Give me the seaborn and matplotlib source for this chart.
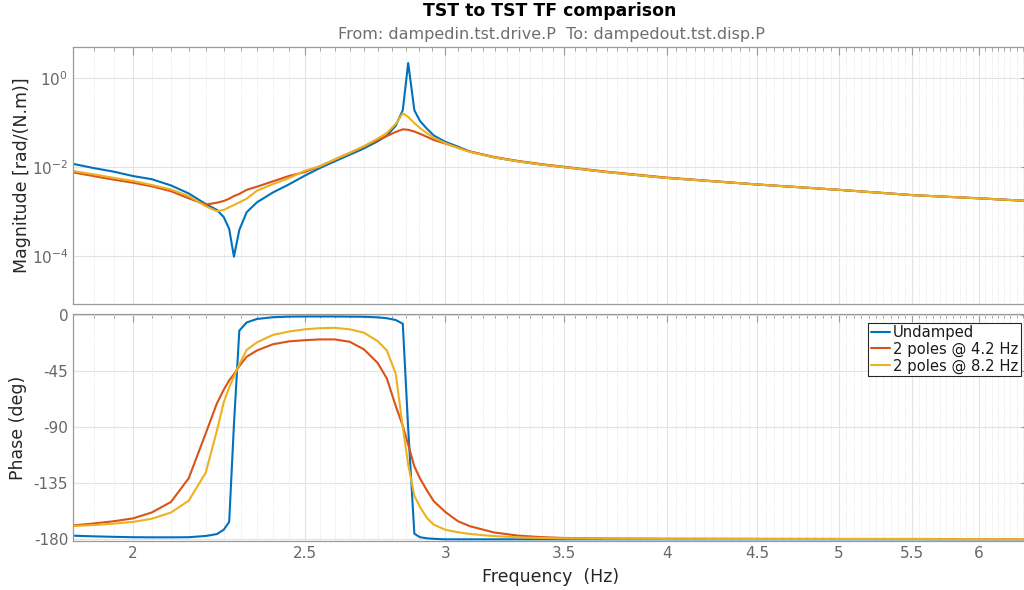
import numpy as np
import pandas as pd
import matplotlib
matplotlib.use("Agg")
import matplotlib.pyplot as plt
from matplotlib.ticker import FixedLocator, NullLocator, NullFormatter
import seaborn as sns

# Frequency grid (Hz) shared by all three responses
freq_hz = [1.852, 1.900, 1.950, 2.000, 2.049, 2.101, 2.150, 2.198, 2.230, 2.250,
           2.266, 2.280, 2.296, 2.318, 2.349, 2.398, 2.448, 2.500, 2.549, 2.599,
           2.650, 2.699, 2.748, 2.781, 2.813, 2.839, 2.859, 2.882, 2.903, 2.930,
           2.956, 3.000, 3.050, 3.098, 3.196, 3.297, 3.396, 3.499, 3.696, 3.990,
           4.502, 5.005, 5.513, 5.999, 6.400]

# Magnitude, rad/(N.m)
mag_undamped = [1.15e-2, 9.33e-3, 7.76e-3, 6.17e-3, 5.25e-3, 3.80e-3, 2.51e-3, 1.45e-3, 1.07e-3, 7.4e-4,
                4.0e-4, 9.5e-5, 3.8e-4, 9.5e-4, 1.58e-3, 2.63e-3, 3.98e-3, 6.31e-3, 9.33e-3, 1.32e-2,
                1.86e-2, 2.57e-2, 3.72e-2, 5.01e-2, 8.32e-2, 1.86e-1, 2.14e0, 1.86e-1, 1.07e-1, 7.08e-2,
                5.01e-2, 3.63e-2, 2.82e-2, 2.19e-2, 1.62e-2, 1.32e-2, 1.12e-2, 9.77e-3, 7.59e-3, 5.62e-3,
                3.98e-3, 3.02e-3, 2.29e-3, 1.95e-3, 1.70e-3]
mag_poles_4p2 = [7.41e-3, 6.17e-3, 5.13e-3, 4.37e-3, 3.63e-3, 2.82e-3, 1.95e-3, 1.41e-3, 1.55e-3, 1.70e-3,
                 1.91e-3, 2.19e-3, 2.45e-3, 3.02e-3, 3.55e-3, 4.68e-3, 6.17e-3, 7.59e-3, 1.02e-2, 1.45e-2,
                 2.04e-2, 2.82e-2, 3.98e-2, 4.90e-2, 6.03e-2, 6.92e-2, 6.76e-2, 6.17e-2, 5.50e-2, 4.68e-2,
                 3.98e-2, 3.31e-2, 2.69e-2, 2.19e-2, 1.66e-2, 1.35e-2, 1.15e-2, 1.00e-2, 7.76e-3, 5.75e-3,
                 3.98e-3, 3.02e-3, 2.29e-3, 1.95e-3, 1.70e-3]
mag_poles_8p2 = [7.94e-3, 6.76e-3, 5.62e-3, 4.79e-3, 3.89e-3, 3.09e-3, 2.19e-3, 1.29e-3, 1.00e-3, 1.07e-3,
                 1.23e-3, 1.38e-3, 1.58e-3, 1.91e-3, 2.88e-3, 4.07e-3, 5.50e-3, 8.13e-3, 1.02e-2, 1.45e-2,
                 2.04e-2, 2.88e-2, 4.27e-2, 5.75e-2, 9.12e-2, 1.58e-1, 1.32e-1, 9.55e-2, 7.41e-2, 5.62e-2,
                 4.47e-2, 3.39e-2, 2.63e-2, 2.14e-2, 1.62e-2, 1.32e-2, 1.12e-2, 9.77e-3, 7.59e-3, 5.62e-3,
                 3.98e-3, 3.02e-3, 2.29e-3, 1.95e-3, 1.70e-3]

# Phase, degrees
phase_undamped = [-177.1, -177.6, -178.0, -178.3, -178.4, -178.4, -178.3, -177.3, -175.8, -172.3,
                  -166.0, -88.0, -12.5, -6.0, -3.2, -1.8, -1.3, -1.2, -1.2, -1.2,
                  -1.3, -1.4, -1.9, -2.6, -4.0, -7.0, -91.0, -175.5, -178.3, -179.2,
                  -179.6, -180.0, -180.0, -180.0, -180.0, -180.0, -180.0, -180.0, -180.0, -180.0,
                  -180.0, -180.0, -180.0, -180.0, -180.0]
phase_poles_4p2 = [-168.8, -167.3, -165.5, -163.2, -158.5, -150.0, -131.0, -95.0, -71.0, -60.0,
                   -52.5, -47.5, -41.0, -33.5, -28.5, -23.5, -21.2, -20.2, -19.6, -19.6,
                   -21.5, -27.5, -38.5, -51.0, -73.0, -89.0, -104.0, -121.5, -131.0, -141.0,
                   -149.5, -158.0, -165.5, -169.5, -174.5, -177.0, -178.2, -178.9, -179.3, -179.5,
                   -179.6, -179.7, -179.7, -179.8, -179.8]
phase_poles_8p2 = [-169.3, -168.6, -167.4, -166.0, -163.5, -158.5, -149.0, -126.5, -93.0, -70.0,
                   -58.0, -49.5, -39.5, -28.0, -22.0, -16.0, -13.3, -11.5, -10.6, -10.3,
                   -11.5, -14.2, -21.0, -28.5, -47.0, -90.0, -120.0, -145.0, -154.0, -163.0,
                   -168.3, -172.3, -174.3, -175.7, -177.4, -178.4, -178.9, -179.2, -179.4, -179.6,
                   -179.7, -179.7, -179.8, -179.8, -179.8]

series_names = ["Undamped", "2 poles @ 4.2 Hz", "2 poles @ 8.2 Hz"]
series_colors = ["#0072BD", "#D95319", "#EDB120"]

freq_ticks = [2, 2.5, 3, 3.5, 4, 4.5, 5, 5.5, 6]
freq_tick_labels = ["2", "2.5", "3", "3.5", "4", "4.5", "5", "5.5", "6"]
mag_ticks = [1e-4, 1e-2, 1e0]
mag_tick_labels = [r"$10^{-4}$", r"$10^{-2}$", r"$10^{0}$"]
phase_ticks = [-180, -135, -90, -45, 0]
phase_tick_labels = ["-180", "-135", "-90", "-45", "0"]

frames = []
for name, mag, ph in zip(series_names,
                         [mag_undamped, mag_poles_4p2, mag_poles_8p2],
                         [phase_undamped, phase_poles_4p2, phase_poles_8p2]):
    frames.append(pd.DataFrame({"freq": freq_hz, "mag": mag, "phase": ph, "series": name}))
df = pd.concat(frames, ignore_index=True)

sns.set_style("white")
plt.rcParams["font.family"] = ["DejaVu Sans"]
plt.rcParams["mathtext.fontset"] = "dejavusans"

W, H = 1024, 590
fig = plt.figure(figsize=(W / 100, H / 100), dpi=100)
left = 73 / W
width = 955.7 / W
ax_mag = fig.add_axes([left, 1 - 304 / H, width, (304 - 46.7) / H])
ax_ph = fig.add_axes([left, 1 - 540.7 / H, width, (540.7 - 314) / H])

palette = dict(zip(series_names, series_colors))
for ax, col in ((ax_mag, "mag"), (ax_ph, "phase")):
    sns.lineplot(data=df, x="freq", y=col, hue="series", hue_order=series_names,
                 palette=palette, estimator=None, sort=False, linewidth=1.5,
                 ax=ax, legend=(col == "phase"))

minor_locs = [round(v, 2) for v in np.arange(1.85, 6.41, 0.05)
              if min(abs(v - t) for t in freq_ticks) > 1e-6]

spine_col = "#9a9a9a"
tick_lab_col = "#676767"
for ax in (ax_mag, ax_ph):
    ax.set_xscale("log")
    ax.set_xlim(1.85, 6.4)
    ax.xaxis.set_major_locator(FixedLocator(freq_ticks))
    ax.xaxis.set_minor_locator(FixedLocator(minor_locs))
    ax.xaxis.set_minor_formatter(NullFormatter())
    ax.set_xlabel("")
    ax.set_ylabel("")
    ax.grid(True, which="major", color="#e3e3e3", linewidth=0.8, linestyle="-")
    ax.grid(True, which="minor", axis="x", color="#dcdcdc", linewidth=0.6, linestyle=":")
    ax.set_axisbelow(True)
    for s in ax.spines.values():
        s.set_color(spine_col)
        s.set_linewidth(0.9)
    ax.tick_params(which="both", direction="in", top=True, right=True,
                   color=spine_col, labelcolor=tick_lab_col, labelsize=11)
    ax.tick_params(which="major", length=6, width=0.8)
    ax.tick_params(which="minor", length=3, width=0.6)

ax_mag.set_yscale("log")
ax_mag.set_ylim(10 ** -5.085, 10 ** 0.697)
ax_mag.yaxis.set_major_locator(FixedLocator(mag_ticks))
ax_mag.set_yticklabels(mag_tick_labels)
ax_mag.yaxis.set_minor_locator(NullLocator())
ax_mag.set_xticklabels([])
ax_mag.xaxis.set_major_formatter(NullFormatter())

ax_ph.set_ylim(-181.1, 0.8)
ax_ph.yaxis.set_major_locator(FixedLocator(phase_ticks))
ax_ph.set_yticklabels(phase_tick_labels)
ax_ph.set_xticklabels(freq_tick_labels)

leg = ax_ph.legend(loc="upper right", bbox_to_anchor=(1020.5 / W, 1 - 322.5 / H),
                   bbox_transform=fig.transFigure, borderaxespad=0, fontsize=10.6,
                   frameon=True, fancybox=False, framealpha=1, edgecolor="#262626",
                   handlelength=1.3, handletextpad=0.22, labelspacing=0.12,
                   borderpad=0.15, title=None)
leg.get_frame().set_linewidth(0.8)
for t in leg.get_texts():
    t.set_color("#1a1a1a")

label_col = "#262626"
fig.text(550 / W, 1 - 11 / H, "TST to TST TF comparison", ha="center", va="center",
         fontsize=12.4, fontweight="bold", color="#000000")
fig.text(551 / W, 1 - 34 / H, "From: dampedin.tst.drive.P  To: dampedout.tst.disp.P",
         ha="center", va="center", fontsize=11.5, color="#6f6f6f")
fig.text(22 / W, 1 - 175 / H, "Magnitude [rad/(N.m)]", ha="center", va="center",
         rotation=90, fontsize=12.5, color=label_col)
fig.text(18 / W, 1 - 428 / H, "Phase (deg)", ha="center", va="center",
         rotation=90, fontsize=12.5, color=label_col)
fig.text(551 / W, 1 - 577 / H, "Frequency  (Hz)", ha="center", va="center",
         fontsize=12.5, color=label_col)

fig.savefig("out.png", dpi=100)
